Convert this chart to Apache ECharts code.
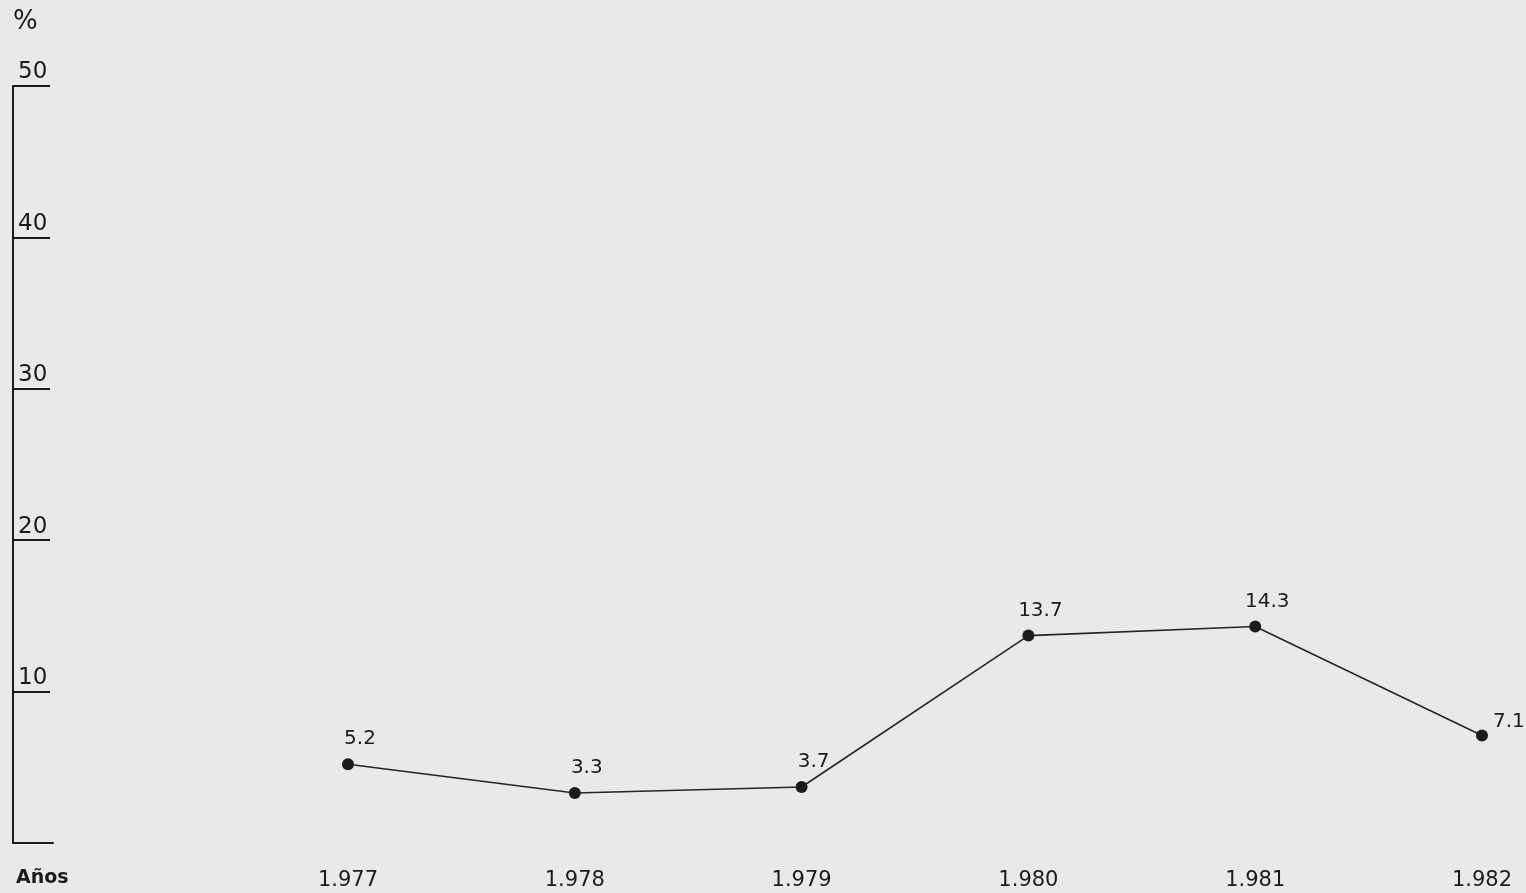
<!DOCTYPE html>
<html>
<head>
<meta charset="utf-8">
<title>Variación porcentual 1.977 - 1.982</title>
<script src="https://cdn.jsdelivr.net/npm/echarts@6/dist/echarts.min.js"></script>
<style>
  html, body { margin: 0; padding: 0; background: #e9e9e7; }
  #chart { width: 1526px; height: 893px; }
</style>
</head>
<body>
<div id="chart"></div>
<script>
// Years on the horizontal axis and yearly percentage values
const years = ['1.977', '1.978', '1.979', '1.980', '1.981', '1.982'];
const values = [5.2, 3.3, 3.7, 13.7, 14.3, 7.1];
// Vertical scale
const yMin = 0;
const yMax = 50;
const yStep = 10;

const ink = '#1b1b1b';
const font = 'DejaVu Sans';

const chart = echarts.init(document.getElementById('chart'), null, { renderer: 'canvas' });

chart.setOption({
  backgroundColor: '#e9e9e7',
  animation: false,
  textStyle: { fontFamily: font, color: ink },
  graphic: [
    { type: 'text', left: 13, top: 9, style: { text: '%', fontSize: 26, fill: ink, fontFamily: font } },
    { type: 'text', left: 16, top: 869, style: { text: 'Años', fontSize: 19, fontWeight: 'bold', fill: ink, fontFamily: font } }
  ],
  grid: [
    // narrow grid that carries the percentage scale and its foot line
    { left: 13, width: 40, top: 86, bottom: 50 },
    // plotting area for the yearly line
    { left: 348, right: 44, top: 86, bottom: 50 }
  ],
  xAxis: [
    {
      gridIndex: 0,
      type: 'value',
      axisLine: { show: true, onZero: false, lineStyle: { color: ink, width: 2 } },
      axisTick: { show: false },
      axisLabel: { show: false },
      splitLine: { show: false }
    },
    {
      gridIndex: 1,
      type: 'category',
      data: years,
      boundaryGap: false,
      axisLine: { show: false },
      axisTick: { show: false },
      splitLine: { show: false },
      axisLabel: { margin: 27, fontSize: 21, color: ink, fontFamily: font }
    }
  ],
  yAxis: [
    {
      gridIndex: 0,
      type: 'value',
      min: yMin,
      max: yMax,
      interval: yStep,
      axisLine: { show: true, lineStyle: { color: ink, width: 2 } },
      axisTick: { show: true, inside: true, length: 37, lineStyle: { color: ink, width: 2 } },
      splitLine: { show: false },
      axisLabel: {
        inside: true,
        showMinLabel: false,
        fontSize: 23,
        color: ink,
        fontFamily: font,
        verticalAlign: 'bottom',
        margin: 5,
        padding: [0, 0, 2, 0]
      }
    },
    {
      gridIndex: 1,
      type: 'value',
      min: yMin,
      max: yMax,
      interval: yStep,
      show: false
    }
  ],
  series: [
    {
      type: 'line',
      xAxisIndex: 1,
      yAxisIndex: 1,
      data: values.map((v, i) => ({
        value: v,
        label: i === values.length - 1
          ? { position: 'right', offset: [0, -14] }
          : { position: 'top', offset: [12, -4] }
      })),
      symbol: 'circle',
      symbolSize: 12,
      itemStyle: { color: ink },
      lineStyle: { color: '#262626', width: 1.6 },
      label: {
        show: true,
        fontSize: 20,
        color: ink,
        fontFamily: font,
        formatter: p => String(p.value)
      }
    }
  ]
});
</script>
</body>
</html>
